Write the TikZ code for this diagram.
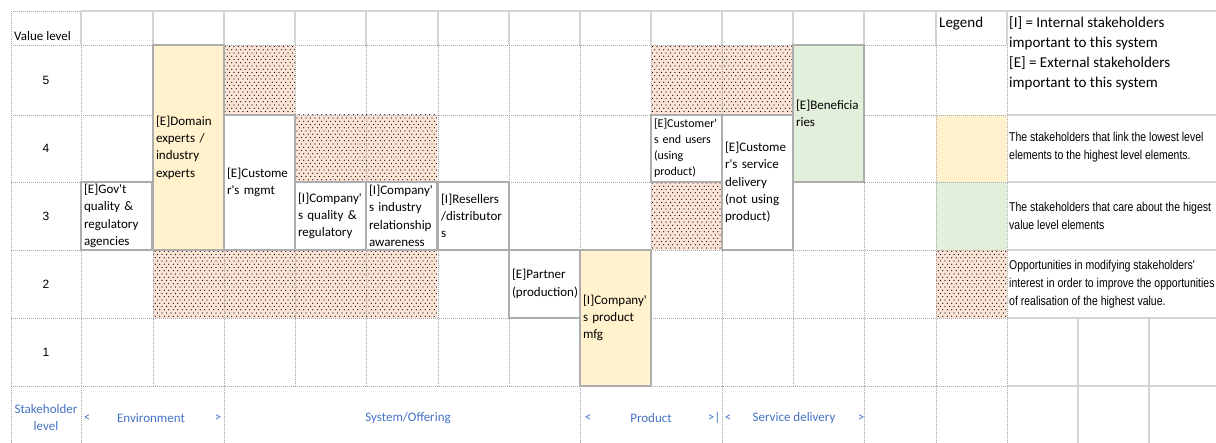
\documentclass[tikz,border=0pt]{standalone}
\usepackage{fontspec}
\setmainfont{Carlito}
\newfontfamily\arialfont{Liberation Sans}
\newfontfamily\narrowfont[FakeStretch=0.82]{Liberation Sans}
\usetikzlibrary{patterns}

\definecolor{linkfill}{HTML}{FFF2CC}
\definecolor{carefill}{HTML}{E2EFDA}
\definecolor{oppfill}{HTML}{FCE4D6}
\definecolor{boxgray}{HTML}{ADADAD}
\definecolor{gridgray}{HTML}{D4D4D4}
\definecolor{dotgray}{HTML}{A8A8A8}
\definecolor{levelblue}{HTML}{4472C4}

\pgfdeclarepatternformonly{sparsedots}{\pgfqpoint{-0.7pt}{-0.7pt}}{\pgfqpoint{3pt}{4pt}}{\pgfqpoint{4.5pt}{6.5pt}}{%
  \pgfpathcircle{\pgfqpoint{0pt}{0pt}}{0.6pt}%
  \pgfpathcircle{\pgfqpoint{2.25pt}{3.25pt}}{0.6pt}%
  \pgfusepath{fill}}

\newcommand{\ap}{\textquotesingle}

\begin{document}
\begin{tikzpicture}[x=1pt, y=-1pt,
    every node/.style={font=\fontsize{13}{17.3}\selectfont, inner sep=2pt},
    stakebox/.style={draw=boxgray, line width=2.8pt, fill=white, anchor=north west,
      outer sep=0pt, inner xsep=3pt, inner ysep=0pt, text width=65pt, align=left},
    oppcell/.style={fill=oppfill, postaction={pattern=sparsedots}},
    dotline/.style={draw=dotgray, line width=0.9pt, dash pattern=on 1pt off 1pt},
    solidline/.style={draw=gridgray, line width=1.6pt},
    levellabel/.style={text=levelblue},
    keytext/.style={anchor=west, align=left, inner xsep=2pt,
      font=\narrowfont\fontsize{12.8}{18}\selectfont}]

  \useasboundingbox (0,0) rectangle (1216,443);

  % Cell fills
  \fill[linkfill] (936,115) rectangle (1007,182);
  \fill[carefill] (936,182) rectangle (1007,250);
  \foreach \x/\y/\h in {224/45/70, 651/45/70, 722/45/70, 295/115/67, 366/115/67,
      651/182/68, 153/250/68, 224/250/68, 295/250/68, 366/250/68, 936/250/68}
    \path[oppcell] (\x,\y) rectangle ++(71,\h);

  % Grid
  \draw[solidline] (81,11) -- (1216,11);
  \foreach \x in {81,153,224,295,366,438,509,580,651,722,793,864,936,1007}
    \draw[solidline] (\x,11) -- (\x,45);
  \draw[dotline] (11,11) -- (81,11);
  \draw[dotline] (11,11) -- (11,45);
  \foreach \y in {45,115,182,250,318,386}
    \draw[dotline] (11,\y) -- (1007,\y);
  \foreach \y in {115,182,250,318,386}
    \draw[solidline] (1007,\y) -- (1216,\y);
  \foreach \x in {11,81,153,224,295,366,438,509,580,651,722,793,864,936,1007}
    \draw[dotline] (\x,45) -- (\x,386);
  \foreach \x in {11,81,224,580,722,864,936,1007}
    \draw[dotline] (\x,386) -- (\x,443);
  \foreach \x in {1078,1149}
    \draw[solidline] (\x,318) -- (\x,443);

  % Value levels
  \node[anchor=base west] (valuelevel) at (12,41) {Value level};
  \foreach \n/\y in {5/80, 4/148.5, 3/216, 2/284, 1/352}
    \node[font=\arialfont\fontsize{12}{14}\selectfont] (v\n) at (46,\y) {\n};

  % Stakeholders
  \node[stakebox, fill=linkfill, minimum height=205pt] (domain) at (153,45)
    {[E]Domain\\experts /\\industry\\experts};
  \node[stakebox, minimum height=135pt] (custmgmt) at (224,115)
    {[E]Custome\\r\ap s mgmt};
  \node[stakebox, minimum height=68pt] (govt) at (81,182)
    {[E]Gov\ap t\\quality \&\\regulatory\\agencies};
  \node[stakebox, minimum height=68pt] (compqual) at (295,182)
    {[I]Company\ap\\s quality \&\\regulatory};
  \node[stakebox, minimum height=68pt] (compind) at (366,182)
    {[I]Company\ap\\s industry\\relationship\\awareness};
  \node[stakebox, minimum height=68pt] (resellers) at (438,182)
    {[I]Resellers\\/distributor\\s};
  \node[stakebox, minimum height=68pt] (partner) at (509,250)
    {[E]Partner\\(production)};
  \node[stakebox, fill=linkfill, minimum height=136pt] (prodmfg) at (580,250)
    {[I]Company\ap\\s product\\mfg};
  \node[stakebox, minimum height=67pt, font=\fontsize{12}{16}\selectfont] (endusers) at (651,115)
    {[E]Customer\ap\\s end users\\(using\\product)};
  \node[stakebox, minimum height=135pt] (servdel) at (722,115)
    {[E]Custome\\r\ap s service\\delivery\\(not using\\product)};
  \node[stakebox, fill=carefill, minimum height=137pt] (benef) at (793,45)
    {[E]Beneficia\\ries};

  % Legend
  \node[anchor=west, font=\fontsize{15}{20.3}\selectfont] (legend) at (937,24) {Legend};
  \node[anchor=north west, align=left, font=\fontsize{15}{20.3}\selectfont] (keys) at (1007,14)
    {[I] = Internal stakeholders\\important to this system\\{}[E] = External stakeholders\\important to this system};
  \node[keytext] (linktext) at (1007,147)
    {The stakeholders that link the lowest level\\elements to the highest level elements.};
  \node[keytext] (caretext) at (1007,216)
    {The stakeholders that care about the higest\\value level elements};
  \node[keytext] (opptext) at (1007,284)
    {Opportunities in modifying stakeholders\ap\\interest in order to improve the opportunities\\of realisation of the highest value.};

  % Stakeholder levels
  \node[levellabel, align=center] (stakelevel) at (46,417.5) {Stakeholder\\level};
  \node[levellabel] (envl) at (87,418) {<};
  \node[levellabel] (env) at (151,418) {Environment};
  \node[levellabel] (envr) at (218,418) {>};
  \node[levellabel] (system) at (408,418) {System/Offering};
  \node[levellabel] (prodl) at (588,418) {<};
  \node[levellabel] (prod) at (651,418) {Product};
  \node[levellabel] (prodr) at (714,418) {>|};
  \node[levellabel] (servl) at (728,418) {<};
  \node[levellabel] (serv) at (794,418) {Service delivery};
  \node[levellabel] (servr) at (861,418) {>};
\end{tikzpicture}
\end{document}
